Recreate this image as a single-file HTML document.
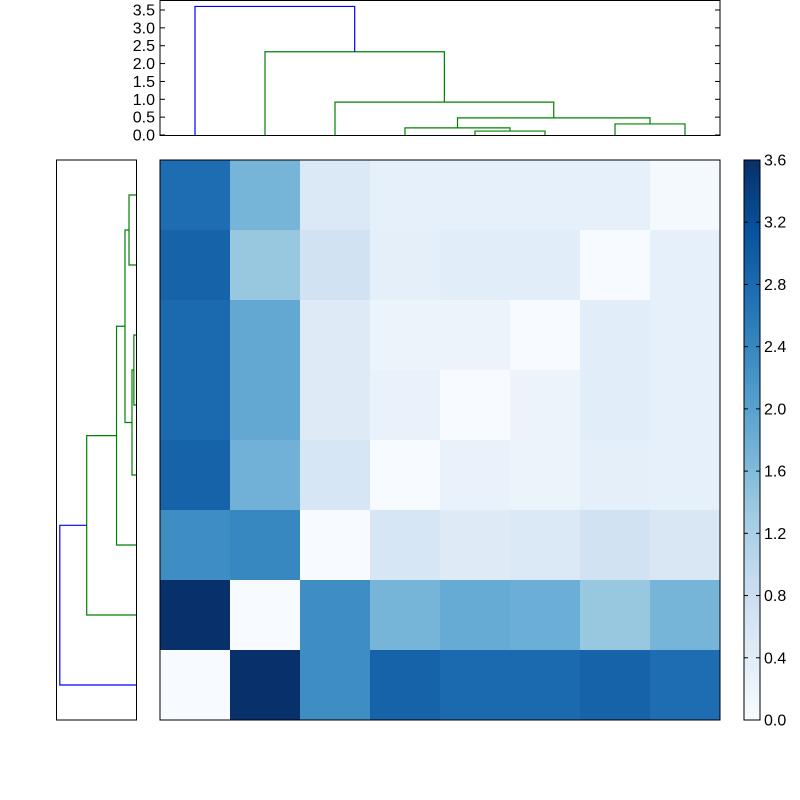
<!DOCTYPE html>
<html><head><meta charset="utf-8"><style>
body{margin:0;background:#fff}
svg{display:block;font-family:"Liberation Sans","DejaVu Sans",sans-serif}
</style></head><body>
<svg id="c" width="800" height="800" viewBox="0 0 800 800" xmlns="http://www.w3.org/2000/svg">
<defs><linearGradient id="cg" x1="0" y1="1" x2="0" y2="0">
<stop offset="0" stop-color="#f7fbff"/><stop offset=".125" stop-color="#deebf7"/><stop offset=".25" stop-color="#c6dbef"/><stop offset=".375" stop-color="#9ecae1"/><stop offset=".5" stop-color="#6baed6"/><stop offset=".625" stop-color="#4292c6"/><stop offset=".75" stop-color="#2171b5"/><stop offset=".875" stop-color="#08519c"/><stop offset="1" stop-color="#08306b"/></linearGradient></defs>
<g id="topd"></g>
<g id="leftd"></g>
<g id="heat"></g>
<g id="cbar"></g>
</svg>
<script>
const matrix=[
[2.75,1.7,0.5,0.3,0.3,0.3,0.3,0.05],
[2.9,1.4,0.7,0.35,0.4,0.4,0,0.3],
[2.8,1.9,0.45,0.2,0.2,0,0.4,0.3],
[2.8,1.9,0.45,0.25,0,0.2,0.4,0.3],
[2.9,1.75,0.6,0,0.25,0.2,0.35,0.3],
[2.3,2.4,0,0.6,0.45,0.5,0.7,0.55],
[3.6,0,2.3,1.7,1.85,1.8,1.4,1.7],
[0,3.6,2.3,2.9,2.8,2.8,2.9,2.75]];
const topMerges=[[4,5,0.11],[3,8,0.2],[6,7,0.31],[9,10,0.48],[2,11,0.92],[1,12,2.33],[0,13,3.6]];
const leftMerges=[[2,3,0.1],[8,4,0.19],[0,1,0.33],[10,9,0.52],[11,5,0.92],[12,6,2.33],[13,7,3.6]];
const topTicks=[0,0.5,1,1.5,2,2.5,3,3.5];
const cbarTicks=[0,0.4,0.8,1.2,1.6,2,2.4,2.8,3.2,3.6];
const vmax=3.6, dmax=3.78;
const NS="http://www.w3.org/2000/svg";
function mk(p,t,a){const e=document.createElementNS(NS,t);for(const k in a)e.setAttribute(k,a[k]);p.appendChild(e);return e;}
const stops=[[0,[247,251,255]],[.125,[222,235,247]],[.25,[198,219,239]],[.375,[158,202,225]],[.5,[107,174,214]],[.625,[66,146,198]],[.75,[33,113,181]],[.875,[8,81,156]],[1,[8,48,107]]];
function blues(v){let t=Math.max(0,Math.min(1,v/vmax));for(let i=1;i<stops.length;i++){if(t<=stops[i][0]){const a=stops[i-1],b=stops[i],f=(t-a[0])/(b[0]-a[0]);return 'rgb('+a[1].map((c,j)=>Math.round(c+(b[1][j]-c)*f)).join(',')+')';}}return 'rgb(8,48,107)';}
const HX=160,HY=160,HS=560,n=8,cs=HS/n;
const heat=document.getElementById('heat');
matrix.forEach((row,r)=>row.forEach((v,c)=>{const e=mk(heat,'rect',{x:HX+c*cs,y:HY+r*cs,width:cs+0.5,height:cs+0.5,fill:blues(v)});

}));
const hf=mk(heat,'rect',{x:HX,y:HY,width:HS,height:HS,fill:'none',stroke:'#000','stroke-width':1});


function dendro(g,merges,leafPos,hPos,vertical){
  const pos={},ht={};for(let i=0;i<n;i++){pos[i]=leafPos(i);ht[i]=0;}
  merges.forEach((m,k)=>{const [a,b,h]=m,id=n+k;const col=(k===merges.length-1)?'#0000ff':'#008000';
    let pts;
    if(vertical)pts=[[pos[a],hPos(ht[a])],[pos[a],hPos(h)],[pos[b],hPos(h)],[pos[b],hPos(ht[b])]];
    else pts=[[hPos(ht[a]),pos[a]],[hPos(h),pos[a]],[hPos(h),pos[b]],[hPos(ht[b]),pos[b]]];
    const e=mk(g,'polyline',{points:pts.map(p=>p.join(',')).join(' '),fill:'none',stroke:col,'stroke-width':1.2});
    
    
    pos[id]=(pos[a]+pos[b])/2;ht[id]=h;});
}
const topG=document.getElementById('topd');
const TY0=135,TY1=0;const ty=v=>TY0-(v/dmax)*(TY0-TY1);
dendro(topG,topMerges,i=>HX+cs*(i+0.5),ty,true);
const tf=mk(topG,'rect',{x:160,y:0.5,width:560,height:135,fill:'none',stroke:'#000'});


topTicks.forEach(t=>{const y=ty(t);mk(topG,'line',{x1:160,x2:165,y1:y,y2:y,stroke:'#000'});mk(topG,'line',{x1:715,x2:720,y1:y,y2:y,stroke:'#000'});
 const e=mk(topG,'text',{x:155,y:y+5.5,'text-anchor':'end','font-size':16});e.textContent=t.toFixed(1);
 
 });
const leftG=document.getElementById('leftd');
const LX0=136,LX1=56;const lx=v=>LX0-(v/dmax)*(LX0-LX1);
dendro(leftG,leftMerges,i=>HY+cs*(i+0.5),lx,false);
const lf=mk(leftG,'rect',{x:56.5,y:160,width:80,height:560,fill:'none',stroke:'#000'});


const cb=document.getElementById('cbar');
const CX=744,CW=16,CY0=720,CY1=160;
mk(cb,'rect',{x:CX,y:CY1,width:CW,height:CY0-CY1,fill:'url(#cg)',stroke:'#000'});
cbarTicks.forEach(t=>{const y=CY0-(t/vmax)*(CY0-CY1);mk(cb,'line',{x1:CX,x2:CX+4,y1:y,y2:y,stroke:'#000'});mk(cb,'line',{x1:CX+CW-4,x2:CX+CW,y1:y,y2:y,stroke:'#000'});
 const e=mk(cb,'text',{x:764,y:y+5.5,'font-size':16});e.textContent=t.toFixed(1);
 
 });
</script>
</body></html>
